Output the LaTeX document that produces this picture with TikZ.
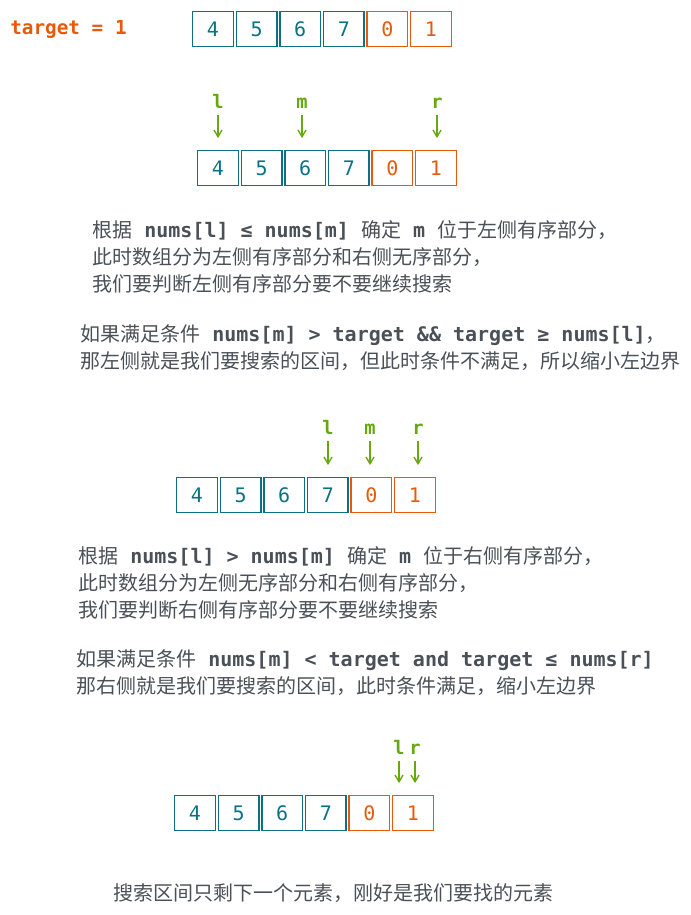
\documentclass[tikz,border=0pt]{standalone}
\usepackage{fontspec}
\setmainfont{Noto Sans CJK SC}
\setmonofont{DejaVu Sans Mono}
\usepackage{tikz}
\usetikzlibrary{positioning}
\usetikzlibrary{calc,arrows.meta}

\definecolor{tealc}{HTML}{0B7285}
\definecolor{orangec}{HTML}{E8590C}
\definecolor{limec}{HTML}{66A80F}
\definecolor{textc}{HTML}{495057}
\newcommand{\code}[1]{{\ttfamily\bfseries #1}}

\begin{document}
\begin{tikzpicture}
	[   x=0.75pt,y=-0.75pt,
	    bnode/.style={draw=#1,text=#1,line width=1pt,minimum width=30.5pt,minimum height=26pt,inner sep=0pt,font=\ttfamily\fontsize{15}{16}\selectfont},
	    pnode/.style={text=limec,anchor=base,inner sep=1pt,text depth=0pt,font=\ttfamily\bfseries\fontsize{14}{16}\selectfont},
	    tnode/.style={text=textc,anchor=base west,inner sep=0pt,align=left,font=\fontsize{15}{20}\selectfont},
	]
	\tikzset{normal arrow/.style={draw=limec,line width=1pt,shorten <=4pt,shorten >=9pt,-{Straight Barb[length=5pt,width=6pt]}}}
	\useasboundingbox (0,0) rectangle (691,915);
	
	\node[anchor=west,inner sep=0pt,text=orangec,font=\ttfamily\bfseries\fontsize{14.5}{16}\selectfont] (target) at (10,29) {target = 1};
	
	% the four rows of the array
	\foreach \r/\x/\y in {a/213/29,b/218/168,c/197/495,d/195/813}
	{
		\foreach \v/\c [count=\i] in {4/tealc,5/tealc,6/tealc,7/tealc,0/orangec,1/orangec}
		{
			\node[bnode=\c] (\r-\i) at ({\x+43.6*(\i-1)},\y) {\v};
		}
	}
	
	% pointers
	\node[pnode] (l-b) at (218,108) {l};
	\node[pnode] (m-b) at (302,108) {m};
	\node[pnode] (r-b) at (437,108) {r};
	\path[normal arrow] (l-b.south) -- (l-b.south |- b-1.north);
	\path[normal arrow] (m-b.south) -- (m-b.south |- b-3.north);
	\path[normal arrow] (r-b.south) -- (r-b.south |- b-6.north);
	
	\node[pnode] (l-c) at (328,434) {l};
	\node[pnode] (m-c) at (370,434) {m};
	\node[pnode] (r-c) at (418,434) {r};
	\path[normal arrow] (l-c.south) -- (l-c.south |- c-4.north);
	\path[normal arrow] (m-c.south) -- (m-c.south |- c-5.north);
	\path[normal arrow] (r-c.south) -- (r-c.south |- c-6.north);
	
	\node[pnode] (l-d) at (399,754) {l};
	\node[pnode] (r-d) at (415,754) {r};
	\path[normal arrow] (l-d.south) -- (l-d.south |- d-6.north);
	\path[normal arrow] (r-d.south) -- (r-d.south |- d-6.north);
	
	% explanations (base anchor is on the last line)
	\node[tnode] (t-1) at (92,291) {根据\code{ nums[l] ≤ nums[m] }确定\code{ m }位于左侧有序部分，\\
		此时数组分为左侧有序部分和右侧无序部分，\\
		我们要判断左侧有序部分要不要继续搜索};
	\node[tnode] (t-2) at (80,368) {如果满足条件\code{ nums[m] > target \&\& target ≥ nums[l]}，\\
		那左侧就是我们要搜索的区间，但此时条件不满足，所以缩小左边界};
	\node[tnode] (t-3) at (78,617) {根据\code{ nums[l] > nums[m] }确定\code{ m }位于右侧有序部分，\\
		此时数组分为左侧无序部分和右侧有序部分，\\
		我们要判断右侧有序部分要不要继续搜索};
	\node[tnode] (t-4) at (76,693) {如果满足条件\code{ nums[m] < target and target ≤ nums[r]}\\
		那右侧就是我们要搜索的区间，此时条件满足，缩小左边界};
	\node[tnode] (t-5) at (113,900) {搜索区间只剩下一个元素，刚好是我们要找的元素};
\end{tikzpicture}
\end{document}
